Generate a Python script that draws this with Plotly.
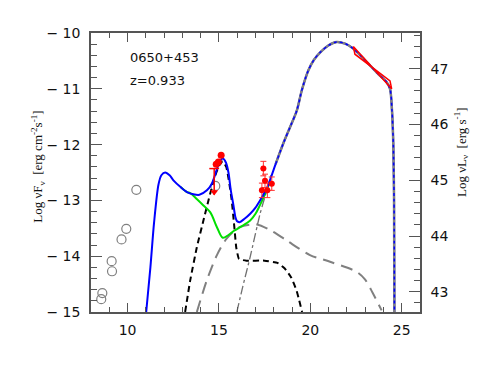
import plotly.graph_objects as go

# log nu (Hz) / log nuFnu (erg cm-2 s-1)
total_x = [11.02, 11.25, 11.45, 11.69, 11.85, 12.06, 12.3, 12.51, 12.9, 13.25, 13.6, 13.93,
           14.34, 14.61, 14.85, 15.05, 15.21, 15.38, 15.52, 15.65, 15.79, 15.9, 15.98, 16.12,
           16.4, 16.71, 17.0, 17.25, 17.5, 17.7, 18.1, 18.52, 18.9, 19.26, 19.53, 19.89, 20.2, 20.53, 21.0,
           21.44, 21.9, 22.35, 22.8, 23.26, 23.7, 24.17, 24.36, 24.47, 24.54, 24.58, 24.6]
total_y = [-15.0, -14.2, -13.4, -12.72, -12.55, -12.50, -12.55, -12.64, -12.76, -12.85, -12.89, -12.90,
           -12.82, -12.70, -12.48, -12.30, -12.25, -12.32, -12.50, -12.82, -13.08, -13.30, -13.37, -13.39,
           -13.33, -13.24, -13.13, -13.0, -12.86, -12.72, -12.35, -11.98, -11.68, -11.39, -11.03, -10.67, -10.48, -10.35, -10.22,
           -10.16, -10.19, -10.28, -10.42, -10.58, -10.73, -10.88, -11.0, -11.4, -12.0, -13.0, -15.0]

nodisk_x = [12.9, 13.25, 13.43, 13.8, 14.15, 14.52, 14.89, 15.21, 15.52, 15.85, 16.16, 16.71, 17.0, 17.25, 17.5, 17.75]
nodisk_y = [-12.76, -12.85, -12.87, -12.98, -13.09, -13.21, -13.48, -13.67, -13.62, -13.54, -13.48, -13.36, -13.24, -13.08, -12.9, -12.7]

disk_x = [13.15, 13.43, 13.79, 14.15, 14.52, 14.75, 15.0, 15.2, 15.4, 15.57, 15.7, 15.82, 15.95, 16.1,
          16.5, 17.5, 18.2, 18.6, 18.95, 19.25, 19.55]
disk_y = [-15.0, -14.43, -13.84, -13.36, -12.88, -12.6, -12.38, -12.3, -12.4, -12.70, -13.0, -13.4, -13.85, -14.05,
          -14.08, -14.08, -14.12, -14.22, -14.38, -14.62, -15.0]

ssc_x = [13.79, 14.34, 14.89, 15.43, 16.12, 17.07, 17.9, 18.71, 19.98, 21.08, 22.53, 23.0, 23.4, 23.9]
ssc_y = [-15.0, -14.43, -13.98, -13.68, -13.48, -13.43, -13.55, -13.72, -13.98, -14.10, -14.28, -14.42, -14.65, -14.97]

ec_x = [15.98, 16.3, 16.71, 17.25, 17.62, 17.85]
ec_y = [-15.0, -14.55, -14.01, -13.24, -12.82, -12.55]

radio_x = [10.48, 9.93, 9.67, 9.13, 9.15, 8.62, 8.56, 14.8]
radio_y = [-12.81, -13.51, -13.70, -14.09, -14.27, -14.66, -14.77, -12.74]

opt_x = [14.85, 14.97, 15.12]
opt_y = [-12.35, -12.31, -12.19]

ul_x = [14.74]
ul_y = [-12.43]
ul_len = 0.47

xray_x = [17.43, 17.52, 17.89, 17.35, 17.65]
xray_y = [-12.43, -12.65, -12.70, -12.82, -12.82]
xray_err = [0.13, 0.12, 0.12, 0.13, 0.13]

bowtie_x = [22.35, 24.45, 24.36, 22.44, 22.35]
bowtie_y = [-10.24, -11.0, -10.86, -10.38, -10.24]

lum_offset = 57.638

fig = go.Figure()

fig.add_trace(go.Scatter(x=radio_x, y=radio_y, mode="markers",
                         marker=dict(symbol="circle-open", size=9, color="#808080", line=dict(width=1.2))))
fig.add_trace(go.Scatter(x=ssc_x, y=ssc_y, mode="lines", line=dict(color="#808080", width=2, dash="12px,7px",
                                                                   shape="spline", smoothing=0.8)))
fig.add_trace(go.Scatter(x=ec_x, y=ec_y, mode="lines", line=dict(color="#707070", width=1.3, dash="dashdot",
                                                                 shape="spline", smoothing=0.6)))
fig.add_trace(go.Scatter(x=disk_x, y=disk_y, mode="lines", line=dict(color="black", width=2, dash="6px,4px",
                                                                     shape="spline", smoothing=0.4)))
fig.add_trace(go.Scatter(x=nodisk_x, y=nodisk_y, mode="lines", line=dict(color="#00e000", width=2,
                                                                         shape="spline", smoothing=1)))
fig.add_trace(go.Scatter(x=total_x, y=total_y, mode="lines", line=dict(color="#0000ff", width=2,
                                                                       shape="spline", smoothing=0.8)))

# high energy hump: grey line with blue dots on top
he_x = [x for x in total_x if x >= 18.1]
he_y = [y for x, y in zip(total_x, total_y) if x >= 18.1]
fig.add_trace(go.Scatter(x=he_x, y=he_y, mode="lines", line=dict(color="#808080", width=2.5,
                                                                 shape="spline", smoothing=0.8)))
fig.add_trace(go.Scatter(x=he_x, y=he_y, mode="lines", line=dict(color="#0000ff", width=1.5, dash="dot",
                                                                 shape="spline", smoothing=0.8)))

fig.add_trace(go.Scatter(x=bowtie_x, y=bowtie_y, mode="lines", line=dict(color="#ff0000", width=1.5)))

fig.add_trace(go.Scatter(x=opt_x, y=opt_y, mode="markers", marker=dict(color="#ff0000", size=7)))
fig.add_trace(go.Scatter(x=[ul_x[0], ul_x[0]], y=[ul_y[0], ul_y[0] - ul_len], mode="lines",
                         line=dict(color="#ff0000", width=1.5)))
fig.add_trace(go.Scatter(x=ul_x, y=[ul_y[0] - ul_len + 0.05], mode="markers",
                         marker=dict(symbol="triangle-down", color="#ff0000", size=7)))
fig.add_trace(go.Scatter(x=ul_x, y=ul_y, mode="markers", marker=dict(symbol="line-ew", size=7,
                                                                     line=dict(color="#ff0000", width=1.5))))
fig.add_trace(go.Scatter(x=xray_x, y=xray_y, mode="markers", marker=dict(color="#ff0000", size=6),
                         error_y=dict(type="data", array=xray_err, color="#ff3030", thickness=1, width=3),
                         error_x=dict(type="constant", value=0.15, color="#ff3030", thickness=1, width=0)))

# dummy trace so the luminosity axis is drawn
fig.add_trace(go.Scatter(x=[None], y=[None], xaxis="x2", yaxis="y2"))

tick_font = dict(family="DejaVu Sans", size=14, color="#111")
axis_common = dict(showgrid=False, zeroline=False, showline=True, linecolor="#555", linewidth=1.5,
                   ticks="inside", tickcolor="#555", tickwidth=1.2, automargin=False)

# page body has an 8px margin, so the plot box is shifted back by that much
fig.update_layout(
    width=491, height=382, showlegend=False,
    plot_bgcolor="white", paper_bgcolor="white",
    margin=dict(l=83, r=79, t=25, b=78, autoexpand=False),
    xaxis=dict(range=[8, 26], tickvals=[10, 15, 20, 25], ticklen=9, tickfont=tick_font,
               ticklabelstandoff=4,
               minor=dict(dtick=1, ticklen=5, ticks="inside", tickcolor="#555"), **axis_common),
    xaxis2=dict(range=[8, 26], overlaying="x", side="top", tickvals=[10, 15, 20, 25], ticklen=9,
                showticklabels=False,
                minor=dict(dtick=1, ticklen=5, ticks="inside", tickcolor="#555"), **axis_common),
    yaxis=dict(range=[-15, -10], tickvals=[-15, -14, -13, -12, -11, -10],
               ticktext=["\u2212 15", "\u2212 14", "\u2212 13", "\u2212 12", "\u2212 11", "\u2212 10"],
               ticklen=11, tickfont=tick_font, ticklabelstandoff=6,
               minor=dict(dtick=0.2, ticklen=6, ticks="inside", tickcolor="#555"), **axis_common),
    yaxis2=dict(range=[-15 + lum_offset, -10 + lum_offset], overlaying="y", side="right",
                tickvals=[43, 44, 45, 46, 47], ticklen=11, tickfont=tick_font, ticklabelstandoff=6,
                minor=dict(dtick=0.2, ticklen=6, ticks="inside", tickcolor="#555"), **axis_common),
)

fig.add_annotation(x=10.04, y=-10.44, text="0650+453", showarrow=False, xanchor="left",
                   font=dict(family="DejaVu Sans", size=13, color="#111"))
fig.add_annotation(x=10.04, y=-10.85, text="z=0.933", showarrow=False, xanchor="left",
                   font=dict(family="DejaVu Sans", size=13, color="#111"))

label_font = dict(family="Liberation Serif", size=13, color="#111")
fig.add_annotation(xref="paper", yref="paper", x=-0.195, y=0.52, textangle=-90, showarrow=False,
                   text="Log \u03bdF<sub>\u03bd</sub>  [erg cm<sup>-2</sup>s<sup>-1</sup>]", font=label_font)
fig.add_annotation(xref="paper", yref="paper", x=1.16, y=0.572, textangle=-90, showarrow=False,
                   text="Log \u03bdL<sub>\u03bd</sub>  [erg s<sup>-1</sup>]", font=label_font)

fig.write_html("out.html")
